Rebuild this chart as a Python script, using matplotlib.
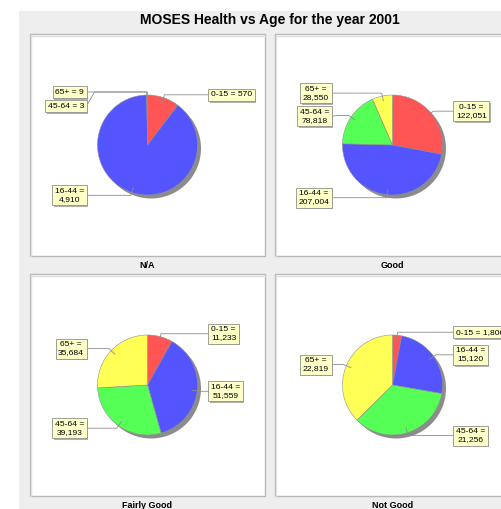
import numpy as np
import matplotlib
matplotlib.use('Agg')
import matplotlib.pyplot as plt
from matplotlib.patches import Rectangle, Circle
from matplotlib.textpath import TextPath
from matplotlib.font_manager import FontProperties
import matplotlib.patheffects as pe

plt.rcParams['font.family'] = ['Liberation Sans', 'DejaVu Sans']

# === data ===
age_groups = ['0-15', '16-44', '45-64', '65+']
health_levels = ['N/A', 'Good', 'Fairly Good', 'Not Good']
na_counts = [570, 4910, 3, 9]
good_counts = [122051, 207004, 78818, 28550]
fairly_good_counts = [11233, 51559, 39193, 35684]
not_good_counts = [1806, 15120, 21256, 22819]
slice_colors = ['#FF5555', '#5555FF', '#55FF55', '#FFFF55']

all_counts = [na_counts, good_counts, fairly_good_counts, not_good_counts]

# === layout (pixels, image coords: top-left origin) ===
W, H = 501, 509
panel_w, panel_h = 235, 222
panel_pos = [(30, 34), (275, 34), (30, 274), (275, 274)]
r = 50
R_link = 1.06 * r
link_pct = 0.9
gap = 8
wrap_em = 5.68

label_font = FontProperties(family='Liberation Sans', size=1)


def text_em(s):
    return TextPath((0, 0), s, prop=label_font).get_extents().width


fig = plt.figure(figsize=(W / 100, H / 100), dpi=100)
ax = fig.add_axes([0, 0, 1, 1])

# gray chart background
ax.add_patch(Rectangle((19, 0), W - 19, H - 11, fc='#eeeeee', ec='none', zorder=0))

for name, counts, (px, ptop) in zip(health_levels, all_counts, panel_pos):
    pb = H - ptop - panel_h
    # panel with a faint inner shadow line
    ax.add_patch(Rectangle((px, pb), panel_w, panel_h, fc='white', ec='#b8b8b8', lw=1, zorder=1))
    ax.plot([px + 1.5, px + 1.5, px + panel_w], [pb, pb + panel_h - 1.5, pb + panel_h - 1.5],
            color='#e0e0e0', lw=1, zorder=1)
    cx = px + panel_w / 2
    cy = pb + panel_h / 2

    # pie shadow
    ax.add_patch(Circle((cx + 3.5, cy - 3.5), r, fc='#8c8c8c', ec='none', zorder=2))
    wedges, _ = ax.pie(counts, colors=slice_colors, startangle=90, counterclock=False,
                       center=(cx, cy), radius=r, frame=True,
                       wedgeprops=dict(ec='#909090', lw=0.4, zorder=3))

    ax.text(cx, pb - 9, name, ha='center', va='center', fontsize=6.5, fontweight='bold', zorder=5)

    recs = []
    for w, cat, val in zip(wedges, age_groups, counts):
        mid = np.deg2rad((w.theta1 + w.theta2) / 2)
        side = 1 if np.cos(mid) >= 0 else -1
        txt = f"{cat} = {val:,}"
        if text_em(txt) > wrap_em:
            txt = f"{cat} =\n{val:,}"
        h = 20 if '\n' in txt else 11
        recs.append(dict(mid=mid, side=side, text=txt, h=h, y=cy + R_link * np.sin(mid)))

    # push overlapping labels apart on each side
    for side in (1, -1):
        group = sorted([d for d in recs if d['side'] == side], key=lambda d: -d['y'])
        for a, b in zip(group, group[1:]):
            need = (a['h'] + b['h']) / 2 + 3
            if a['y'] - b['y'] < need:
                b['y'] = a['y'] - need

    for d in recs:
        c, s, side = np.cos(d['mid']), np.sin(d['mid']), d['side']
        lx, ly = cx + r * link_pct * c, cy + r * link_pct * s
        ex, ey = cx + R_link * c, cy + R_link * s
        anchor_x = cx + side * R_link
        tx = anchor_x + side * gap
        ax.plot([lx, ex, anchor_x, tx], [ly, ey, ey, d['y']], color='#8c8c8c', lw=0.6, zorder=4)
        t = ax.text(tx + side * 2.4, d['y'], d['text'], ha='left' if side > 0 else 'right',
                    va='center', multialignment='center', fontsize=6.1, zorder=6,
                    bbox=dict(boxstyle='square,pad=0.3', fc='#FFFFC8', ec='#909090', lw=0.6))
        t.get_bbox_patch().set_path_effects([
            pe.SimplePatchShadow(offset=(1.2, -1.2), shadow_rgbFace='#b0b0b0', alpha=1),
            pe.Normal()])

ax.text(270, H - 20, 'MOSES Health vs Age for the year 2001', ha='center', va='center',
        fontsize=10, fontweight='bold', zorder=5)

ax.set_xlim(0, W)
ax.set_ylim(0, H)
ax.set_aspect('auto')
ax.axis('off')

plt.savefig('out.png', dpi=100, facecolor='white')
